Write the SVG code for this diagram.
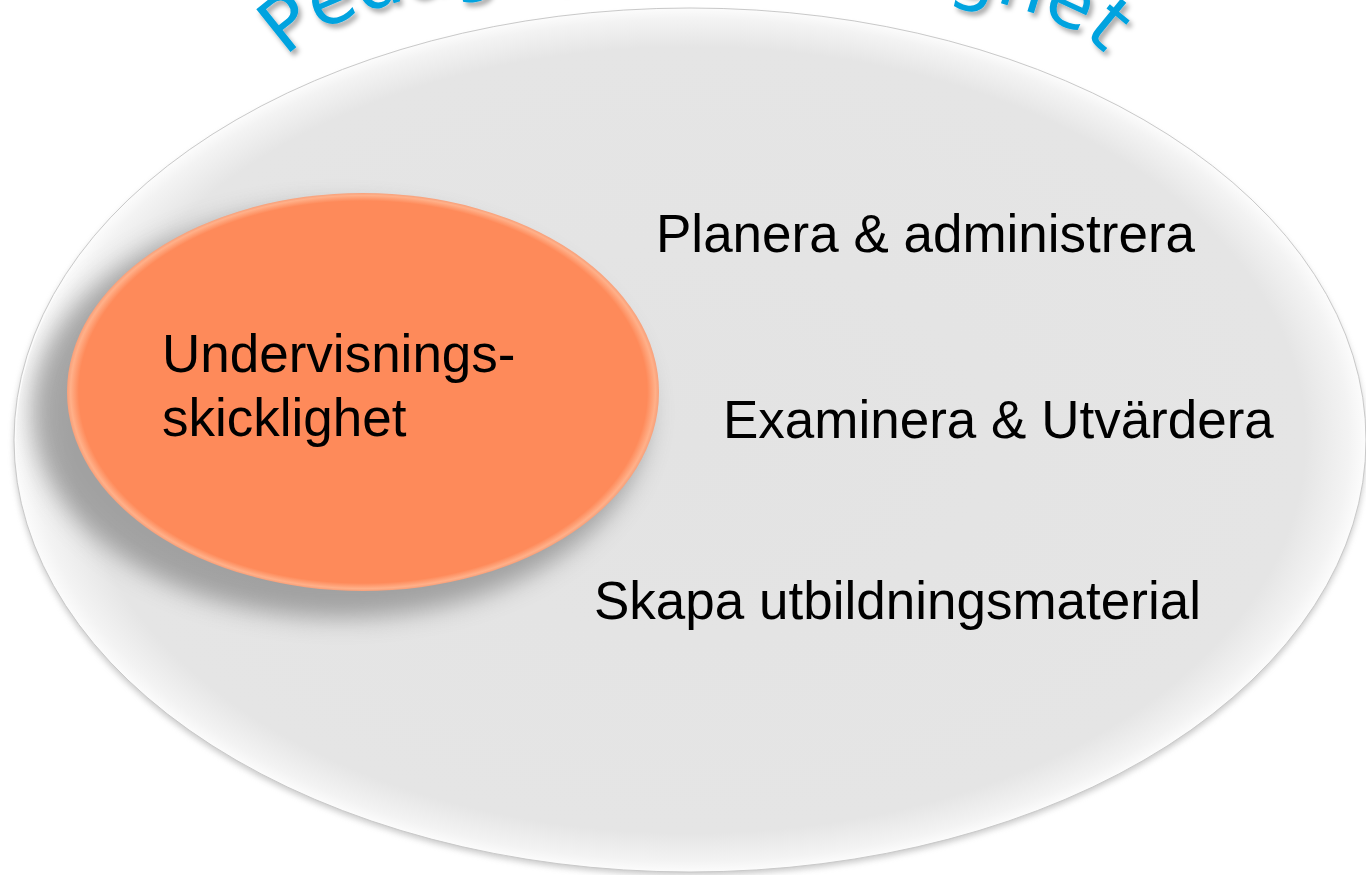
<svg xmlns="http://www.w3.org/2000/svg" width="1366" height="875" viewBox="0 0 1366 875">
  <defs>
    <style>
      .lbl { font-family: "Liberation Sans", Arial, sans-serif; font-size: 53px; fill: #000000; }
      .title { font-family: "DejaVu Sans", Verdana, sans-serif; font-size: 75px; fill: #05A3DF; letter-spacing: 0px; }
    </style>
    <radialGradient id="outerFill" cx="50%" cy="50%" r="50%">
      <stop offset="0%" stop-color="#e3e3e3"/>
      <stop offset="91%" stop-color="#e5e5e5"/>
      <stop offset="97.5%" stop-color="#f3f3f3"/>
      <stop offset="100%" stop-color="#fcfcfc"/>
    </radialGradient>
    <radialGradient id="orangeFill" cx="50%" cy="50%" r="50%">
      <stop offset="0%" stop-color="#fe8a5a"/>
      <stop offset="96%" stop-color="#fe8a5a"/>
      <stop offset="98.8%" stop-color="#ffb089"/>
      <stop offset="100%" stop-color="#f8a07a"/>
    </radialGradient>
    <filter id="blurBig" x="-20%" y="-20%" width="140%" height="140%">
      <feGaussianBlur stdDeviation="12"/>
    </filter>
    <filter id="blurSmall" x="-5%" y="-5%" width="110%" height="110%">
      <feGaussianBlur stdDeviation="3"/>
    </filter>
    <filter id="titleShadow" x="-10%" y="-10%" width="120%" height="130%">
      <feDropShadow dx="3" dy="4" stdDeviation="2.5" flood-color="#000000" flood-opacity="0.35"/>
    </filter>
    <clipPath id="outerClip">
      <ellipse cx="690" cy="440" rx="674" ry="429"/>
    </clipPath>
    <path id="titleArc" d="M 287 58.7 A 415 105 0 0 1 1107 58.7"/>
  </defs>

  <rect width="1366" height="875" fill="#ffffff"/>

  <g id="title" filter="url(#titleShadow)">
    <text class="title"><textPath href="#titleArc" startOffset="0">Pedagogisk skicklighet</textPath></text>
  </g>

  <g id="outer-ellipse">
    <ellipse cx="690" cy="444" rx="676" ry="431" fill="#9a9a9a" opacity="0.55" filter="url(#blurSmall)"/>
    <ellipse cx="690" cy="440" rx="676" ry="432" fill="url(#outerFill)" stroke="#c9c9c9" stroke-width="1"/>
  </g>

  <g id="undervisningsskicklighet">
    <g clip-path="url(#outerClip)">
      <ellipse cx="340" cy="412" rx="308" ry="206" fill="#5e5e5e" opacity="0.5" filter="url(#blurBig)"/>
    </g>
    <ellipse cx="363" cy="392" rx="296" ry="199" fill="url(#orangeFill)"/>
    <text class="lbl" x="162" y="372">Undervisnings-</text>
    <text class="lbl" x="162" y="436">skicklighet</text>
  </g>

  <g id="planera">
    <text class="lbl" x="656" y="252">Planera &amp; administrera</text>
  </g>
  <g id="examinera">
    <text class="lbl" x="723" y="438">Examinera &amp; Utvärdera</text>
  </g>
  <g id="skapa">
    <text class="lbl" x="594" y="619">Skapa utbildningsmaterial</text>
  </g>

  <g id="connectors"/>
</svg>
